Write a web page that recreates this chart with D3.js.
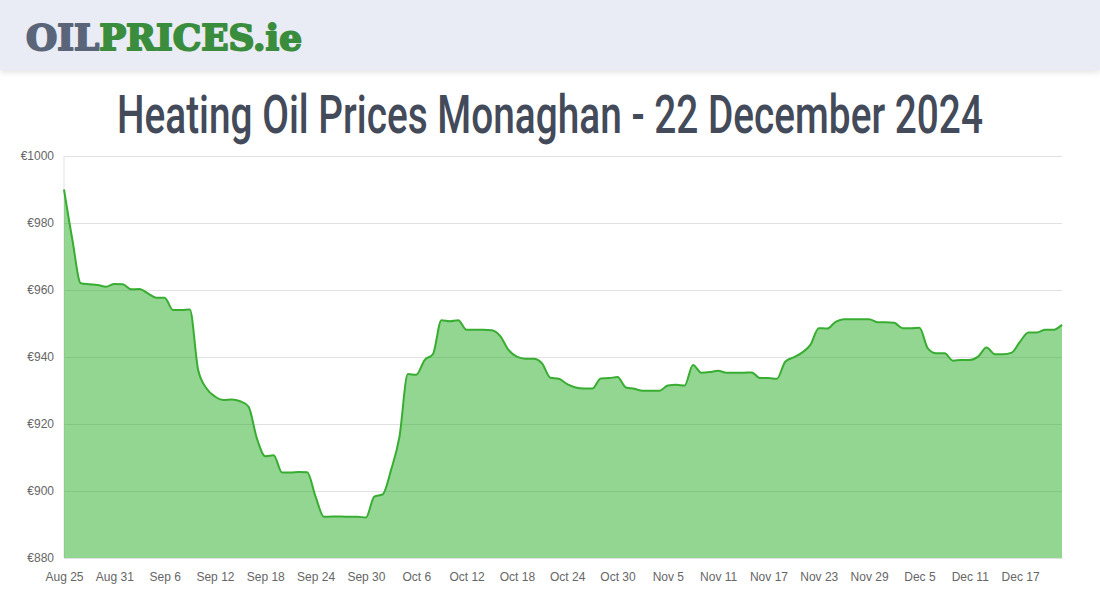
<!DOCTYPE html>
<html>
<head>
<meta charset="utf-8">
<script src="https://cdn.jsdelivr.net/npm/d3@7"></script>
<style>
  body { margin: 0; background: #fff; }
  svg { display: block; }
</style>
</head>
<body>
<svg id="chart" width="1100" height="600"></svg>
<script>
// daily prices, Aug 25 -> Dec 22 2024
const startDate = new Date(2024, 7, 25);
const prices = [
  990, 975, 962, 961.7, 961.5, 961, 961.8, 961.7, 960.2, 960.3,
  959, 957.7, 957.7, 954, 954, 954.2, 936.1, 930.6, 928.2, 927.2,
  927.3, 926.8, 925.2, 915.7, 910.4, 910.7, 905.5, 905.5, 905.7, 905.6,
  898.3, 892.3, 892.4, 892.4, 892.3, 892.3, 892.1, 898.3, 899, 906.3,
  916.2, 934.9, 934.7, 939.1, 940.9, 951, 950.7, 951, 948.1, 948.1,
  948.1, 948, 946.3, 942.1, 940.1, 939.5, 939.5, 938.1, 933.8, 933.5,
  931.9, 930.9, 930.6, 930.6, 933.6, 933.7, 934, 930.9, 930.5, 929.9,
  929.9, 929.9, 931.5, 931.7, 931.5, 937.6, 935.3, 935.5, 935.9, 935.3,
  935.3, 935.3, 935.4, 933.7, 933.7, 933.5, 938.6, 939.9, 941.3, 943.6,
  948.6, 948.5, 950.5, 951.3, 951.3, 951.3, 951.3, 950.4, 950.4, 950.2,
  948.6, 948.6, 948.7, 942.6, 941.1, 941.1, 938.9, 939.1, 939.1, 940.1,
  942.8, 940.8, 940.8, 941.3, 944.6, 947.3, 947.3, 948.1, 948.1, 949.6
];
const yTicks = [880, 900, 920, 940, 960, 980, 1000];
const tickStepDays = 6;
const titleText = "Heating Oil Prices Monaghan - 22 December 2024";

const data = prices.map((v, i) => ({ date: d3.timeDay.offset(startDate, i), value: v }));

const svg = d3.select("#chart");
const margin = {top: 156, right: 38, bottom: 42, left: 64};
const width = 1100 - margin.left - margin.right;
const height = 600 - margin.top - margin.bottom;

// header bar
const defs = svg.append("defs");
const sh = defs.append("filter").attr("id", "shadow").attr("x", "-5%").attr("y", "-20%").attr("width", "110%").attr("height", "160%");
sh.append("feDropShadow").attr("dx", 0).attr("dy", 2).attr("stdDeviation", 3).attr("flood-color", "#000").attr("flood-opacity", 0.12);
svg.append("rect").attr("x", 0).attr("y", 0).attr("width", 1100).attr("height", 70)
  .attr("fill", "#e9ecf4").attr("filter", "url(#shadow)");

const logo = svg.append("text")
  .attr("x", 26).attr("y", 50)
  .attr("font-family", "DejaVu Serif")
  .attr("font-weight", "bold")
  .attr("font-size", 36)
  .attr("stroke-width", 2)
  .attr("stroke-linejoin", "round")
  .attr("textLength", 276)
  .attr("lengthAdjust", "spacingAndGlyphs");
logo.append("tspan").attr("fill", "#5b6579").attr("stroke", "#5b6579").text("OIL");
logo.append("tspan").attr("fill", "#3b8d3e").attr("stroke", "#3b8d3e").text("PRICES.ie");

// title, squeezed horizontally to look condensed
const title = svg.append("text")
  .attr("x", 0).attr("y", 0)
  .attr("font-family", "Roboto")
  .attr("font-weight", 500)
  .attr("font-size", 53)
  .attr("fill", "#434a5a")
  .text(titleText);
const tw = title.node().getComputedTextLength();
const sx = 866 / tw;
title.attr("transform", `translate(${550 - 433},133) scale(${sx},1)`);

const g = svg.append("g").attr("transform", `translate(${margin.left},${margin.top})`);

const x = d3.scaleTime()
  .domain([data[0].date, data[data.length - 1].date])
  .range([0, width]);
const y = d3.scaleLinear().domain([880, 1000]).range([height, 0]);

// grid + y axis
const yAxis = g.append("g")
  .call(d3.axisLeft(y).tickValues(yTicks).tickSize(8).tickPadding(2).tickFormat(d => "€" + d));
yAxis.select(".domain").remove();
yAxis.selectAll(".tick line").attr("x2", width).attr("stroke", "#e1e1e1");
yAxis.selectAll(".tick text").attr("font-family", "Liberation Sans, Arial").attr("font-size", 12).attr("fill", "#666");
g.append("line").attr("x1", 0).attr("x2", 0).attr("y1", 0).attr("y2", height).attr("stroke", "#e1e1e1");

// x axis
const xTicks = d3.range(0, prices.length, tickStepDays).map(i => data[i].date);
const xAxis = g.append("g")
  .attr("transform", `translate(0,${height})`)
  .call(d3.axisBottom(x).tickValues(xTicks).tickSize(0).tickPadding(14).tickFormat(d3.timeFormat("%b %-d")));
xAxis.select(".domain").remove();
xAxis.selectAll(".tick text").attr("font-family", "Liberation Sans, Arial").attr("font-size", 12).attr("fill", "#666");

const curve = d3.curveMonotoneX;
g.append("path").datum(data)
  .attr("fill", "rgba(37,173,37,0.5)")
  .attr("d", d3.area().x(d => x(d.date)).y0(height).y1(d => y(d.value)).curve(curve));
g.append("path").datum(data)
  .attr("fill", "none")
  .attr("stroke", "#38ad32")
  .attr("stroke-width", 2)
  .attr("d", d3.line().x(d => x(d.date)).y(d => y(d.value)).curve(curve));
</script>
</body>
</html>
